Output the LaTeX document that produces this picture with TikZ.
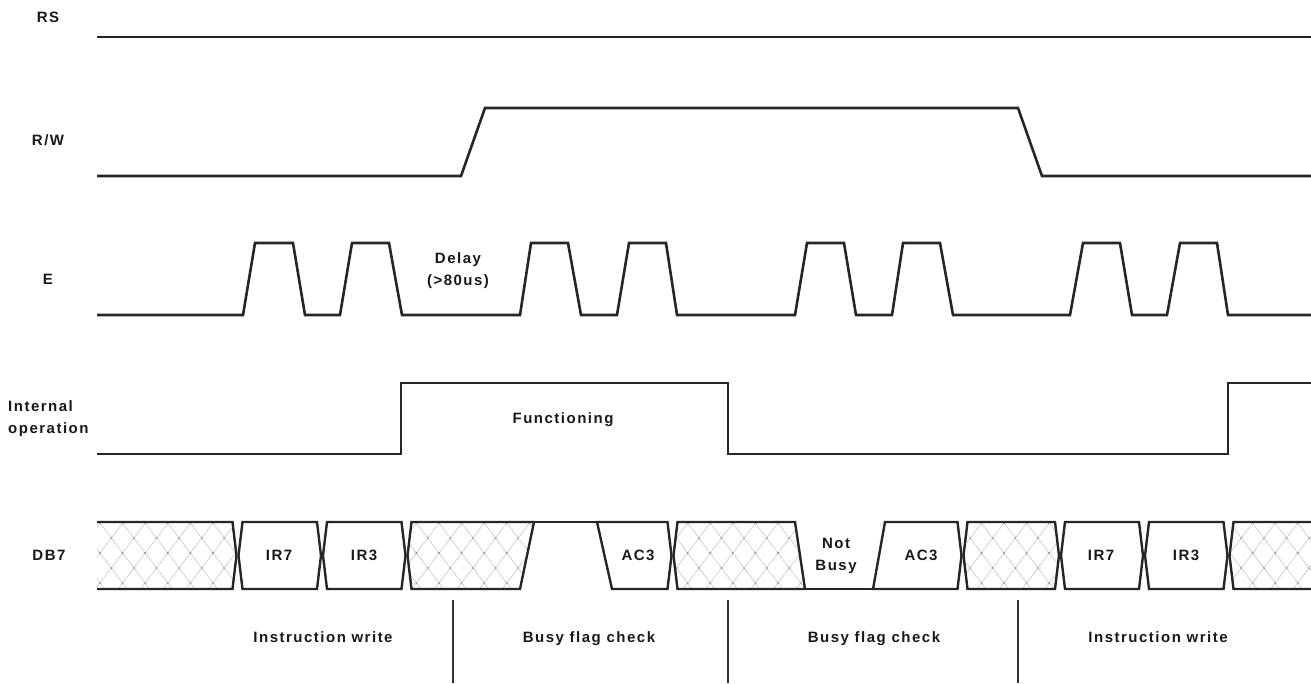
\documentclass[tikz,border=0pt]{standalone}
\usepackage{fontspec}
\setmainfont{Liberation Sans}[LetterSpace=10]
\begin{document}
\begin{tikzpicture}[x=1pt,y=-1pt,
  wave/.style={line width=2.6pt, draw=black!85, line join=miter},
  bus/.style={line width=2.4pt, draw=black!85, line join=miter},
  hatchline/.style={line width=0.5pt, draw=black!25},
  hatchdot/.style={fill=black!45},
  divider/.style={line width=1.4pt, draw=black!80},
  lbl/.style={inner sep=0pt, text=black!90, font=\bfseries\fontsize{15}{22}\selectfont},
  lblc/.style={lbl, align=center},
  lbll/.style={lbl, align=left, anchor=west}]
\useasboundingbox (0,0) rectangle (1311,683);
\fill[white] (0,0) rectangle (1311,683);

% signal labels
\node[lbl]  (lRS)  at (48,17)  {RS};
\node[lbl]  (lRW)  at (48,140) {R/W};
\node[lbl]  (lE)   at (48,279) {E};
\node[lbll] (lIO)  at (8,418.5) {Internal\\operation};
\node[lbl]  (lDB)  at (49,555) {DB7};

% RS
\draw[wave] (97,37) -- (1311,37);
% R/W
\draw[wave] (97,176) -- (461,176) -- (485,108) -- (1018,108) -- (1042,176) -- (1311,176);
% E
\draw[wave] (97,315) -- (243,315) -- (255,243) -- (293,243) -- (305,315)
  -- (340,315) -- (352,243) -- (389,243) -- (402,315)
  -- (520,315) -- (531,243) -- (568,243) -- (581,315)
  -- (617,315) -- (629,243) -- (666,243) -- (677,315)
  -- (795,315) -- (807,243) -- (844,243) -- (856,315)
  -- (892,315) -- (903,243) -- (940,243) -- (953,315)
  -- (1070,315) -- (1083,243) -- (1120,243) -- (1132,315)
  -- (1167,315) -- (1180,243) -- (1217,243) -- (1228,315) -- (1311,315);
\node[lblc] (delay) at (458,271) {Delay\\(>80us)};
% Internal operation
\draw[wave] (97,454) -- (401,454) -- (401,383) -- (728,383) -- (728,454)
  -- (1228,454) -- (1228,383) -- (1311,383);
\node[lbl, anchor=base] (func) at (563,423) {Functioning};

% DB7 hatched regions
\begin{scope}
\clip (97,522) -- (232.5,522) -- (236.5,555.5) -- (232.5,589) -- (97,589) -- cycle
      (411.5,522) -- (534,522) -- (520,589) -- (411.5,589) -- (407.5,555.5) -- cycle
      (677.5,522) -- (795,522) -- (805,589) -- (677.5,589) -- (673.5,555.5) -- cycle
      (967.5,522) -- (1055,522) -- (1059,555.5) -- (1055,589) -- (967.5,589) -- (963.5,555.5) -- cycle
      (1311,522) -- (1233.5,522) -- (1229.5,555.5) -- (1233.5,589) -- (1311,589) -- cycle;
\foreach \k in {-4,...,56} {
  \draw[hatchline] ({100+22.6*\k-45},493.3) -- ({100+22.6*\k+45},612.7);
  \draw[hatchline] ({100+22.6*\k+45},493.3) -- ({100+22.6*\k-45},612.7);
  \fill[hatchdot] ({100+22.6*\k},523) circle[radius=1.1pt];
  \fill[hatchdot] ({111.3+22.6*\k},538) circle[radius=1.1pt];
  \fill[hatchdot] ({100+22.6*\k},553) circle[radius=1.1pt];
  \fill[hatchdot] ({111.3+22.6*\k},568) circle[radius=1.1pt];
  \fill[hatchdot] ({100+22.6*\k},583) circle[radius=1.1pt];
}
\end{scope}

% DB7 outlines
\draw[bus] (97,522) -- (232.5,522) -- (236.5,555.5) -- (232.5,589) -- (97,589);
\draw[bus] (242.5,522) -- (317,522) -- (321,555.5) -- (317,589) -- (242.5,589) -- (238.5,555.5) -- cycle;
\draw[bus] (327,522) -- (401.5,522) -- (405.5,555.5) -- (401.5,589) -- (327,589) -- (323,555.5) -- cycle;
\draw[bus] (411.5,522) -- (534,522) -- (520,589) -- (411.5,589) -- (407.5,555.5) -- cycle;
\draw[bus] (534,522) -- (597,522);
\draw[bus] (597,522) -- (667.5,522) -- (671.5,555.5) -- (667.5,589) -- (612,589) -- cycle;
\draw[bus] (677.5,522) -- (795,522) -- (805,589) -- (677.5,589) -- (673.5,555.5) -- cycle;
\draw[bus] (805,589) -- (873,589);
\draw[bus] (873,589) -- (885,522) -- (957.5,522) -- (961.5,555.5) -- (957.5,589) -- cycle;
\draw[bus] (967.5,522) -- (1055,522) -- (1059,555.5) -- (1055,589) -- (967.5,589) -- (963.5,555.5) -- cycle;
\draw[bus] (1065,522) -- (1139,522) -- (1143,555.5) -- (1139,589) -- (1065,589) -- (1061,555.5) -- cycle;
\draw[bus] (1149,522) -- (1223.5,522) -- (1227.5,555.5) -- (1223.5,589) -- (1149,589) -- (1145,555.5) -- cycle;
\draw[bus] (1311,522) -- (1233.5,522) -- (1229.5,555.5) -- (1233.5,589) -- (1311,589);

% DB7 labels
\node[lbl]  (ir7a) at (279,555) {IR7};
\node[lbl]  (ir3a) at (364,555) {IR3};
\node[lbl]  (ac3a) at (638,555) {AC3};
\node[lblc] (nb)   at (836,556) {Not\\Busy};
\node[lbl]  (ac3b) at (921,555) {AC3};
\node[lbl]  (ir7b) at (1101,555) {IR7};
\node[lbl]  (ir3b) at (1186,555) {IR3};

% phase dividers
\coordinate (d1t) at (453,600); \coordinate (d1b) at (453,683);
\coordinate (d2t) at (728,600); \coordinate (d2b) at (728,683);
\coordinate (d3t) at (1018,600); \coordinate (d3b) at (1018,683);
\draw[divider] (d1t) -- (d1b);
\draw[divider] (d2t) -- (d2b);
\draw[divider] (d3t) -- (d3b);

% phase labels
\node[lbl, anchor=base] (ph1) at (323,642) {Instruction write};
\node[lbl, anchor=base] (ph2) at (589,642) {Busy flag check};
\node[lbl, anchor=base] (ph3) at (874,642) {Busy flag check};
\node[lbl, anchor=base] (ph4) at (1158,642) {Instruction write};
\end{tikzpicture}
\end{document}
